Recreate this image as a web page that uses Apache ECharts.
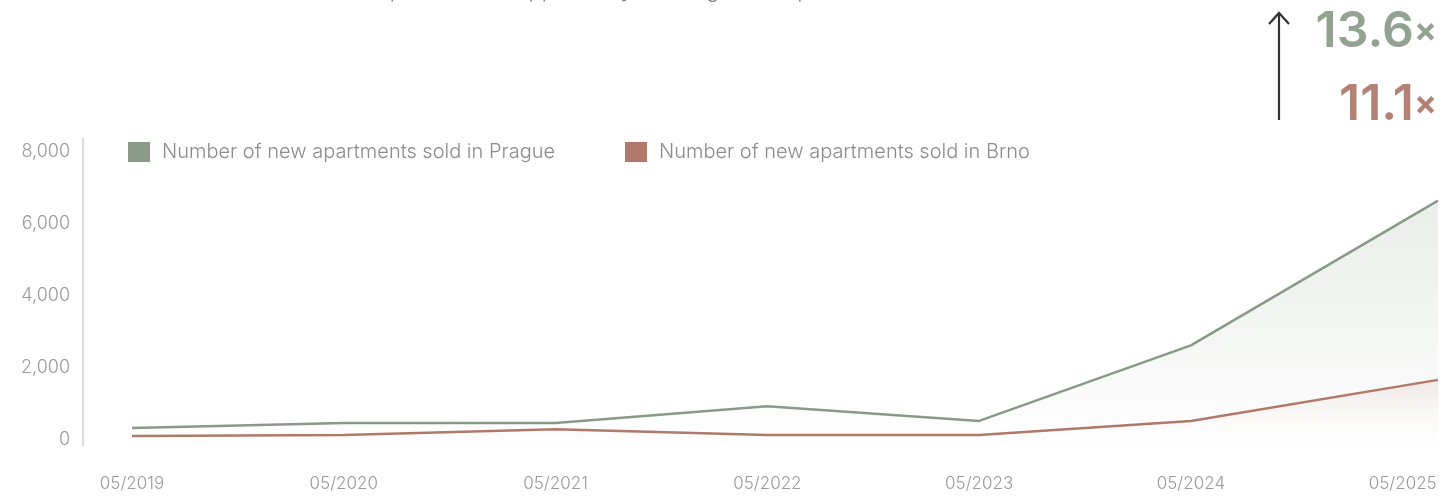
<!DOCTYPE html>
<html>
<head>
<meta charset="utf-8">
<script src="https://cdn.jsdelivr.net/npm/echarts@6/dist/echarts.min.js"></script>
<style>
html,body{margin:0;padding:0;background:#fff;}
#chart{width:1445px;height:498px;}
</style>
</head>
<body>
<div id="chart"></div>
<script>
// ---- data ----
var dates = ['05/2019','05/2020','05/2021','05/2022','05/2023','05/2024','07/2025'];
var prague = [330, 470, 470, 940, 530, 2630, 6650];
var brno = [110, 140, 300, 140, 140, 530, 1670];
var tickLabels = ['05/2019','05/2020','05/2021','05/2022','05/2023','05/2024','05/2025'];
var yTicks = [0, 2000, 4000, 6000, 8000];
var seriesNames = ['Number of new apartments sold in Prague', 'Number of new apartments sold in Brno'];
var multipliers = ['13.6', '11.1'];
var introText = 'Market saturation in the two cities represents an opportunity with high sales potential.';

function monthIndex(s) {
  var p = s.split('/');
  var m0 = tickLabels[0].split('/');
  return (parseInt(p[1]) - parseInt(m0[1])) * 12 + (parseInt(p[0]) - parseInt(m0[0]));
}
var tickPos = tickLabels.map(monthIndex);
var praguePts = dates.map(function (d, i) { return [monthIndex(d), prague[i]]; });
var brnoPts = dates.map(function (d, i) { return [monthIndex(d), brno[i]]; });

var green = '#899a88';
var red = '#b07969';
var font = 'Inter';

var chart = echarts.init(document.getElementById('chart'), null, {renderer: 'canvas'});
chart.setOption({
  animation: false,
  backgroundColor: '#ffffff',
  grid: {left: 132, right: 7, top: 152, bottom: 40, containLabel: false, outerBoundsMode: 'none'},
  legend: [
    {data: [seriesNames[0]], left: 123, top: 137, itemWidth: 22, itemHeight: 20, icon: 'rect',
     textStyle: {color: '#8c8c8c', fontSize: 20, fontWeight: 300, fontFamily: font, padding: [0, 0, 0, 7]}},
    {data: [seriesNames[1]], left: 620, top: 137, itemWidth: 22, itemHeight: 20, icon: 'rect',
     textStyle: {color: '#8c8c8c', fontSize: 20, fontWeight: 300, fontFamily: font, padding: [0, 0, 0, 7]}}
  ],
  xAxis: {
    type: 'value', min: 0, max: monthIndex(dates[dates.length - 1]),
    splitLine: {show: false}, axisLine: {show: false}, axisTick: {show: false},
    axisLabel: {
      customValues: tickPos, color: '#9a9a9a', fontSize: 17, fontWeight: 300, fontFamily: font, margin: 17,
      formatter: function (v) { return tickLabels[tickPos.indexOf(v)] || ''; }
    }
  },
  yAxis: {
    type: 'value', min: -500, max: 8000,
    splitLine: {show: false}, axisLine: {show: false}, axisTick: {show: false},
    axisLabel: {
      customValues: yTicks, color: '#9a9a9a', fontSize: 18, fontWeight: 300, fontFamily: font, margin: 62,
      formatter: function (v) { return v.toLocaleString('en-US'); }
    }
  },
  graphic: [
    {type: 'line', shape: {x1: 83, y1: 138, x2: 83, y2: 446}, style: {stroke: '#cfcfcf', lineWidth: 1.5}},
    {type: 'text', x: 20, y: 1, style: {text: introText, fill: '#7a7a7a', fontSize: 22, fontFamily: font, fontWeight: 300, verticalAlign: 'bottom'}},
    {type: 'line', shape: {x1: 1279, y1: 13, x2: 1279, y2: 120}, style: {stroke: '#333333', lineWidth: 2.2}},
    {type: 'polyline', shape: {points: [[1269, 24], [1279, 13], [1289, 24]]}, style: {stroke: '#333333', lineWidth: 2.2, fill: null}},
    {type: 'text', right: 8, top: 7, style: {
      text: '{n|' + multipliers[0] + '}{x|×}', align: 'right',
      rich: {n: {fontSize: 50, fontFamily: font, fontWeight: 600, fill: '#93a392', color: '#93a392'},
             x: {fontSize: 34, fontFamily: font, fontWeight: 700, fill: '#93a392', color: '#93a392'}}
    }},
    {type: 'text', right: 8, top: 80, style: {
      text: '{n|' + multipliers[1] + '}{x|×}', align: 'right',
      rich: {n: {fontSize: 50, fontFamily: font, fontWeight: 600, fill: '#b48273', color: '#b48273'},
             x: {fontSize: 34, fontFamily: font, fontWeight: 700, fill: '#b48273', color: '#b48273'}}
    }}
  ],
  series: [
    {
      name: seriesNames[0], type: 'line', data: praguePts, showSymbol: false, symbol: 'none',
      lineStyle: {color: green, width: 2.5}, itemStyle: {color: green},
      areaStyle: {origin: 'start', color: new echarts.graphic.LinearGradient(0, 0, 0, 1, [
        {offset: 0, color: 'rgba(137,154,136,0.25)'},
        {offset: 0.75, color: 'rgba(137,154,136,0.07)'},
        {offset: 1, color: 'rgba(255,255,255,0)'}
      ])},
      z: 2
    },
    {
      name: seriesNames[1], type: 'line', data: brnoPts, showSymbol: false, symbol: 'none',
      lineStyle: {color: red, width: 2.5}, itemStyle: {color: red},
      areaStyle: {origin: 'start', color: new echarts.graphic.LinearGradient(0, 0, 0, 1, [
        {offset: 0, color: 'rgba(176,121,105,0.18)'},
        {offset: 1, color: 'rgba(255,255,255,0)'}
      ])},
      z: 3
    }
  ]
});
</script>
</body>
</html>
